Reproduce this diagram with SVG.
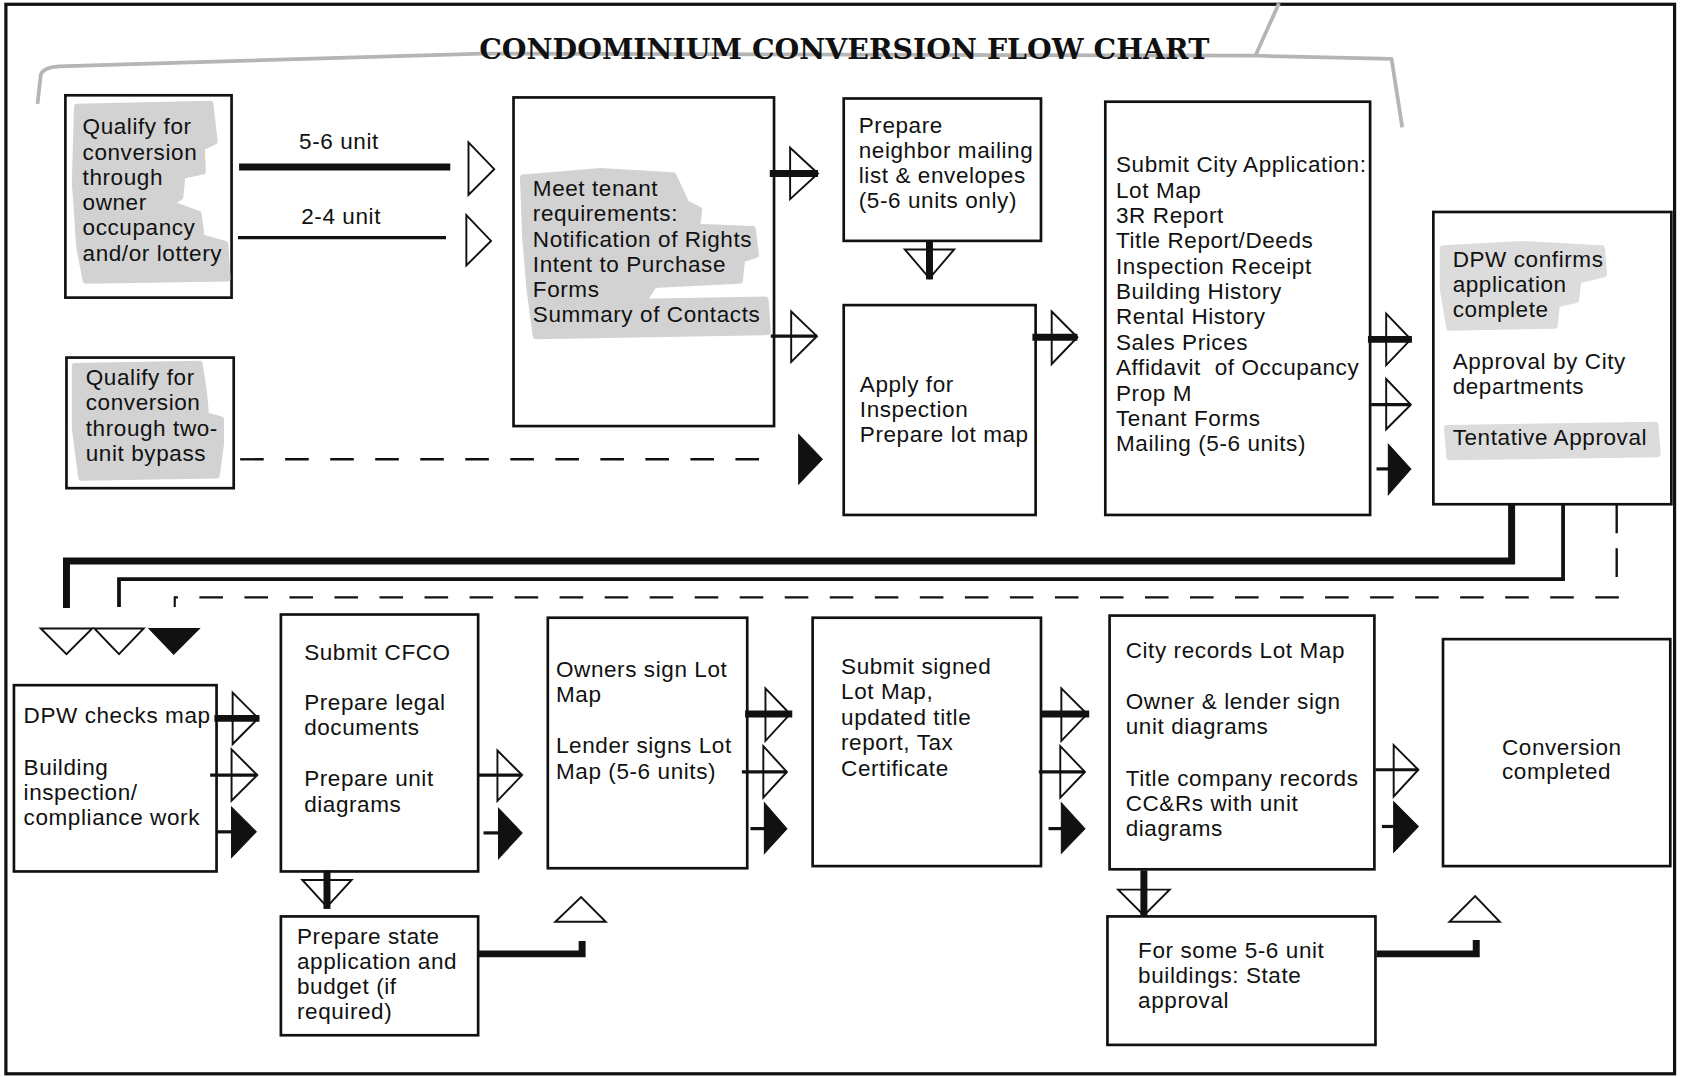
<svg xmlns="http://www.w3.org/2000/svg" width="1681" height="1077" viewBox="0 0 1681 1077">
<style>
.box{fill:#fff;stroke:#111;stroke-width:2.5}
.t{font-family:"Liberation Sans",Arial,sans-serif;font-size:21px;letter-spacing:0.55px;fill:#111;white-space:pre}
.ttl{font-family:"DejaVu Serif","Liberation Serif",serif;font-size:26px;font-weight:bold;fill:#111}
.hl{fill:#d2d2d2;stroke:#d2d2d2;stroke-width:6;stroke-linejoin:round}
.hl2{fill:#dcdcdc;stroke:#dcdcdc;stroke-width:6;stroke-linejoin:round}
.thick{stroke:#111;stroke-width:6.5;fill:none}
.med{stroke:#111;stroke-width:3.5;fill:none}
.thin{stroke:#111;stroke-width:3;fill:none}
.dash{stroke:#111;stroke-width:2.2;fill:none;stroke-dasharray:22 20}
.open{fill:#fff;stroke:#111;stroke-width:1.8}
.solid{fill:#111;stroke:#111;stroke-width:1}
.scribble{stroke:#b5b5b5;stroke-width:3.5;fill:none;stroke-linejoin:round}
</style>
<rect width="1681" height="1077" fill="#fff"/>
<g transform="scale(1.07207,1.07058)">
<rect x="5.5" y="4" width="1556.5" height="999" fill="none" stroke="#111" stroke-width="3"/>
<g id="decor">
<path class="scribble" d="M35,97 L38,70 Q40,63 55,62 L450,50 L1171,52 L1298,55 L1308,119"/>
<path class="scribble" d="M1193,3 L1171,52"/>
<text class="ttl" x="447" y="55" textLength="681" lengthAdjust="spacingAndGlyphs">CONDOMINIUM CONVERSION FLOW CHART</text>
</g>

<g id="n-qualify-owner">
<rect class="box" x="61" y="89" width="155" height="189"/>
<path class="hl" d="M72,100 L196,97 L200,132 L188,138 L189,160 L170,164 L168,184 L158,190 L185,200 L188,222 L210,228 L212,260 L80,262 L74,230 L70,170 Z"/>
<text class="t"><tspan x="77" y="125.5">Qualify for</tspan><tspan x="77" y="149.1">conversion</tspan><tspan x="77" y="172.7">through</tspan><tspan x="77" y="196.3">owner</tspan><tspan x="77" y="219.9">occupancy</tspan><tspan x="77" y="243.5">and/or lottery</tspan></text>
</g>

<g id="n-qualify-bypass">
<rect class="box" x="62" y="334" width="156" height="122"/>
<path class="hl" d="M70,342 L186,340 L190,366 L192,388 L206,392 L206,414 L202,444 L76,446 L70,400 Z"/>
<text class="t"><tspan x="80" y="359.6">Qualify for</tspan><tspan x="80" y="383.2">conversion</tspan><tspan x="80" y="406.8">through two-</tspan><tspan x="80" y="430.4">unit bypass</tspan></text>
</g>

<g id="n-meet-tenant">
<rect class="box" x="479" y="91" width="243" height="307"/>
<path class="hl" d="M488,166 L560,160 L628,164 L640,190 L652,196 L650,212 L702,214 L705,238 L692,242 L690,262 L610,266 L600,282 L714,280 L716,310 L500,314 L494,270 L490,220 Z"/>
<text class="t"><tspan x="497" y="183.3">Meet tenant</tspan><tspan x="497" y="206.8">requirements:</tspan><tspan x="497" y="230.3">Notification of Rights</tspan><tspan x="497" y="253.8">Intent to Purchase</tspan><tspan x="497" y="277.3">Forms</tspan><tspan x="497" y="300.8">Summary of Contacts</tspan></text>
</g>

<g id="n-neighbor">
<rect class="box" x="787" y="92" width="184" height="133"/>
<text class="t"><tspan x="801" y="123.9">Prepare</tspan><tspan x="801" y="147.5">neighbor mailing</tspan><tspan x="801" y="171.1">list &amp; envelopes</tspan><tspan x="801" y="194.7">(5-6 units only)</tspan></text>
</g>

<g id="n-apply">
<rect class="box" x="787" y="285" width="179" height="196"/>
<text class="t"><tspan x="802" y="366.6">Apply for</tspan><tspan x="802" y="389.8">Inspection</tspan><tspan x="802" y="413">Prepare lot map</tspan></text>
</g>

<g id="n-submit-city">
<rect class="box" x="1031" y="95" width="247" height="386"/>
<text class="t"><tspan x="1041" y="160.8">Submit City Application:</tspan><tspan x="1041" y="184.5">Lot Map</tspan><tspan x="1041" y="208.2">3R Report</tspan><tspan x="1041" y="231.9">Title Report/Deeds</tspan><tspan x="1041" y="255.6">Inspection Receipt</tspan><tspan x="1041" y="279.3">Building History</tspan><tspan x="1041" y="303">Rental History</tspan><tspan x="1041" y="326.7">Sales Prices</tspan><tspan x="1041" y="350.4">Affidavit  of Occupancy</tspan><tspan x="1041" y="374.1">Prop M</tspan><tspan x="1041" y="397.8">Tenant Forms</tspan><tspan x="1041" y="421.5">Mailing (5-6 units)</tspan></text>
</g>

<g id="n-dpw-confirms">
<rect class="box" x="1337" y="198" width="222" height="273"/>
<path class="hl2" d="M1346,232 L1420,228 L1494,232 L1496,256 L1472,262 L1470,280 L1452,284 L1450,304 L1352,306 L1346,270 Z"/>
<path class="hl2" d="M1350,400 L1544,397 L1546,424 L1352,427 Z"/>
<text class="t"><tspan x="1355" y="249.2">DPW confirms</tspan><tspan x="1355" y="272.6">application</tspan><tspan x="1355" y="295.9">complete</tspan><tspan x="1355" y="344.9">Approval by City</tspan><tspan x="1355" y="367.6">departments</tspan><tspan x="1355" y="415.6">Tentative Approval</tspan></text>
</g>

<g id="n-dpw-checks">
<rect class="box" x="13" y="640" width="189" height="174"/>
<text class="t"><tspan x="22" y="675.8">DPW checks map</tspan><tspan x="22" y="723.9">Building</tspan><tspan x="22" y="747.2">inspection/</tspan><tspan x="22" y="770.5">compliance work</tspan></text>
</g>

<g id="n-cfco">
<rect class="box" x="262" y="574" width="184" height="240"/>
<text class="t"><tspan x="283.7" y="616.3">Submit CFCO</tspan><tspan x="283.7" y="663.6">Prepare legal</tspan><tspan x="283.7" y="687">documents</tspan><tspan x="283.7" y="734.6">Prepare unit</tspan><tspan x="283.7" y="758.4">diagrams</tspan></text>
</g>

<g id="n-state-app">
<rect class="box" x="262" y="856" width="184" height="111"/>
<text class="t"><tspan x="277" y="881.5">Prepare state</tspan><tspan x="277" y="905">application and</tspan><tspan x="277" y="928.5">budget (if</tspan><tspan x="277" y="951.7">required)</tspan></text>
</g>

<g id="n-owners-sign">
<rect class="box" x="511" y="577" width="186" height="234"/>
<text class="t"><tspan x="518.6" y="632.3">Owners sign Lot</tspan><tspan x="518.6" y="655.6">Map</tspan><tspan x="518.6" y="703">Lender signs Lot</tspan><tspan x="518.6" y="727.3">Map (5-6 units)</tspan></text>
</g>

<g id="n-submit-signed">
<rect class="box" x="758" y="577" width="213" height="232"/>
<text class="t"><tspan x="784.5" y="629.8">Submit signed</tspan><tspan x="784.5" y="653">Lot Map,</tspan><tspan x="784.5" y="677.4">updated title</tspan><tspan x="784.5" y="700.5">report, Tax</tspan><tspan x="784.5" y="724.8">Certificate</tspan></text>
</g>

<g id="n-city-records">
<rect class="box" x="1035" y="575" width="247" height="237"/>
<text class="t"><tspan x="1050" y="614.7">City records Lot Map</tspan><tspan x="1050" y="662.3">Owner &amp; lender sign</tspan><tspan x="1050" y="685.4">unit diagrams</tspan><tspan x="1050" y="733.8">Title company records</tspan><tspan x="1050" y="757.8">CC&amp;Rs with unit</tspan><tspan x="1050" y="780.9">diagrams</tspan></text>
</g>

<g id="n-state-approval">
<rect class="box" x="1033" y="856" width="250" height="120"/>
<text class="t"><tspan x="1061.6" y="894.5">For some 5-6 unit</tspan><tspan x="1061.6" y="918.6">buildings: State</tspan><tspan x="1061.6" y="941.8">approval</tspan></text>
</g>

<g id="n-conversion">
<rect class="box" x="1346" y="597" width="212" height="212"/>
<text class="t"><tspan x="1401" y="704.8">Conversion</tspan><tspan x="1401" y="727.9">completed</tspan></text>
</g>

<g id="connectors">
<text class="t" x="279" y="139.3">5-6 unit</text>
<text class="t" x="281" y="209">2-4 unit</text>
<line class="thick" x1="223" y1="156" x2="420" y2="156"/>
<polygon class="open" points="437,133 461,158 437,182"/>
<line class="thin" x1="222" y1="222" x2="416" y2="222"/>
<polygon class="open" points="435,201 458,225 435,248"/>
<line class="dash" x1="224" y1="429" x2="722" y2="429"/>
<polygon class="solid" points="745,406 767,429 745,452"/>

<polygon class="open" points="737,138 763,162 737,186"/>
<line class="thick" x1="718" y1="162" x2="763" y2="162"/>
<polygon class="open" points="738,291 762,314 738,338"/>
<line class="thin" x1="719" y1="314" x2="762" y2="314"/>

<polygon class="open" points="844,233 890,233 867,260"/>
<line class="thick" x1="867" y1="226" x2="867" y2="261"/>

<polygon class="open" points="981,291 1005,315 981,340"/>
<line class="thick" x1="963" y1="315" x2="1005" y2="315"/>

<polygon class="open" points="1293,293 1316,317 1293,341"/>
<line class="thick" x1="1276" y1="317" x2="1317" y2="317"/>
<polygon class="open" points="1293,354 1316,378 1293,401"/>
<line class="thin" x1="1279" y1="378" x2="1316" y2="378"/>
<line class="thin" x1="1284" y1="438" x2="1296" y2="438"/>
<polygon class="solid" points="1295,415 1316,438 1295,462"/>

<polyline class="thick" points="1410,471 1410,524 62,524 62,568"/>
<polyline class="med" points="1458,471 1458,541 111,541 111,567"/>
<line class="dash" x1="1508" y1="471" x2="1508" y2="540" style="stroke-dasharray:27 14"/>
<line class="dash" x1="1510" y1="558" x2="163" y2="558"/>
<line class="thin" x1="163" y1="557" x2="163" y2="567" style="stroke-width:2"/>

<polygon class="open" points="38,587 86,587 62,611"/>
<polygon class="open" points="88,587 134,587 111,611"/>
<polygon class="solid" points="139,587 186,587 162,611"/>

<polygon class="open" points="217,647 241,671 217,695"/>
<line class="thick" x1="200" y1="671" x2="242" y2="671"/>
<polygon class="open" points="216,700 240,724 216,748"/>
<line class="thin" x1="196" y1="724" x2="240" y2="724"/>
<line class="thin" x1="202" y1="777" x2="217" y2="777"/>
<polygon class="solid" points="216,754 239,777 216,801"/>

<polygon class="open" points="464,701 487,724 464,748"/>
<line class="thin" x1="445" y1="724" x2="487" y2="724"/>
<line class="thin" x1="451" y1="778" x2="466" y2="778"/>
<polygon class="solid" points="465,755 487,778 465,802"/>

<polygon class="open" points="282,822 328,822 305,847"/>
<line class="thick" x1="305" y1="813" x2="305" y2="849"/>

<polyline class="thick" points="446,891 543,891 543,879"/>
<polygon class="open" points="518,861 565,861 542,838"/>

<polygon class="open" points="714,643 737,667 714,692"/>
<line class="thick" x1="695" y1="667" x2="739" y2="667"/>
<polygon class="open" points="712,697 734,721 712,745"/>
<line class="thin" x1="692" y1="721" x2="734" y2="721"/>
<line class="thin" x1="700" y1="774" x2="714" y2="774"/>
<polygon class="solid" points="713,750 734,774 713,797"/>

<polygon class="open" points="990,643 1014,667 990,692"/>
<line class="thick" x1="971" y1="667" x2="1016" y2="667"/>
<polygon class="open" points="989,697 1012,721 989,745"/>
<line class="thin" x1="969" y1="721" x2="1012" y2="721"/>
<line class="thin" x1="978" y1="774" x2="991" y2="774"/>
<polygon class="solid" points="990,750 1012,774 990,797"/>

<polygon class="open" points="1300,696 1323,719 1300,744"/>
<line class="thin" x1="1283" y1="719" x2="1323" y2="719"/>
<line class="thin" x1="1289" y1="772" x2="1301" y2="772"/>
<polygon class="solid" points="1300,749 1323,772 1300,796"/>

<polygon class="open" points="1043,831 1091,831 1067,855"/>
<line class="thick" x1="1067" y1="813" x2="1067" y2="856"/>

<polyline class="thick" points="1284,891 1377,891 1377,878"/>
<polygon class="open" points="1352,861 1399,861 1376,837"/>
</g>
</g>
</svg>
